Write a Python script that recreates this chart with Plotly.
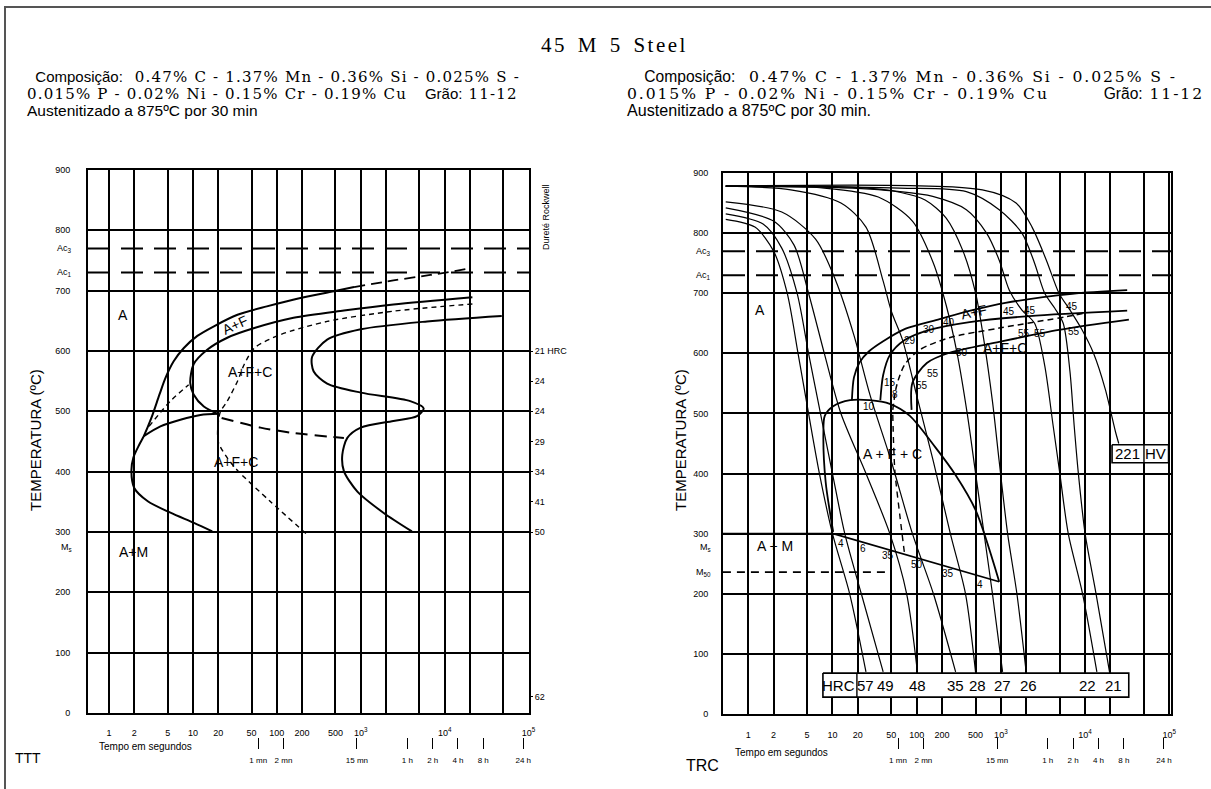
import math
import plotly.graph_objects as go

W, H = 1211, 789

# ---------------- axes ----------------
sec_ticks = [1, 2, 5, 10, 20, 50, 100, 200, 500, 1000, 2000, 5000, 1e4, 2e4, 5e4, 1e5]
sec_text = ["1", "2", "5", "10", "20", "50", "100", "200", "500", "10<sup>3</sup>", "", "",
            "10<sup>4</sup>", "", "", "10<sup>5</sup>"]
clock_ticks = [60, 120, 900, 3600, 7200, 14400, 28800, 86400]
clock_text = ["1 mn", "2 mn", "15 mn", "1 h", "2 h", "4 h", "8 h", "24 h"]
temp_ticks = list(range(0, 901, 100))

# critical temperatures (°C)
ac3 = 770
ac1 = 730
m50_T = 236

# Rockwell hardness after isothermal holding (TTT)
hrc_T = [600, 550, 500, 450, 400, 350, 300, 27]
hrc_text = ["21 HRC", "24", "24", "29", "34", "41", "50", "62"]

# ---------------- TTT curves (time s, temperature °C) ----------------
ttt_start_t = [17, 10.3, 5.4, 2.9, 2.0, 1.85, 1.95, 2.3, 2.6, 3.2, 4.0, 4.7, 5.9, 7.8, 11.3, 17.8, 34, 76, 191, 479, 832]
ttt_start_T = [301, 315, 332, 351, 373, 401, 423, 445, 459, 489, 528, 555, 583, 605, 625, 641, 660, 674, 688, 699, 706]
ttt_start_ext_t = [832, 2450, 6760, 20400]
ttt_start_ext_T = [706, 717, 726, 737]
ttt_pearl_t = [21400, 2450, 630, 158, 54, 25.7, 14.8, 10.2, 9.3, 10.2, 13.5, 20.4]
ttt_pearl_T = [689, 677, 667, 655, 638, 622, 602, 578, 547, 528, 508, 495]
ttt_bain_t = [2.6, 4.1, 7.1, 12.3, 20.4]
ttt_bain_T = [459, 475, 486, 494, 496]
ttt_link_t = [3.0, 5.4, 8.9]
ttt_link_T = [475, 517, 544]
ttt_half_t = [22, 64, 159, 630]
ttt_half_T = [489, 473, 464, 456]
ttt_end_t = [47900, 6170, 1000, 398, 263, 275, 398, 1000, 3890, 5620, 4680, 2450, 1000, 692, 603, 630, 912, 1860, 4070]
ttt_end_T = [658, 649, 636, 619, 590, 566, 546, 531, 517, 505, 492, 484, 473, 456, 428, 401, 367, 332, 301]
ttt_carb_t = [21400, 2450, 398, 110, 54, 41, 34, 25.7, 21, 20, 25.7, 34, 83, 229]
ttt_carb_T = [678, 666, 649, 627, 605, 578, 550, 517, 497, 450, 423, 402, 351, 296]

# ---------------- TRC cooling curves (time s, temperature °C) ----------------
cool_57_t = [0.54, 1.2, 2.0, 2.9, 3.9, 5.2, 7.0, 10, 16, 25]
cool_57_T = [823, 810, 770, 700, 600, 500, 400, 300, 200, 70]
cool_49_t = [0.54, 1.5, 2.5, 3.8, 5.2, 7.2, 10, 14, 22, 40]
cool_49_T = [832, 815, 775, 700, 600, 500, 400, 300, 200, 70]
cool_48_t = [0.54, 2.0, 3.5, 5.2, 8, 12.6, 25, 48, 76, 102]
cool_48_T = [842, 820, 780, 700, 600, 500, 400, 300, 200, 70]
cool_35_t = [0.54, 2.5, 6.3, 11, 18, 28, 50, 89, 158, 290]
cool_35_T = [852, 835, 790, 720, 630, 530, 420, 300, 200, 70]
cool_28_t = [0.54, 3.2, 12.6, 25, 40, 50, 68, 100, 158, 251, 380, 500]
cool_28_T = [878, 872, 850, 810, 720, 670, 622, 530, 420, 300, 200, 70]
cool_27_t = [0.54, 8, 35, 89, 158, 224, 302, 398, 501, 631, 794, 1047]
cool_27_T = [878, 875, 860, 820, 750, 680, 600, 500, 400, 300, 200, 70]
cool_26_t = [0.54, 20, 63, 126, 224, 355, 501, 631, 794, 955, 1202, 1549, 1995]
cool_26_T = [878, 876, 868, 855, 825, 770, 700, 620, 520, 420, 300, 200, 70]
cool_22_t = [0.54, 10, 63, 155, 389, 676, 955, 1259, 1778, 2512, 3311, 4169, 5012, 6310, 9333, 13800]
cool_22_T = [878, 876, 869, 861, 839, 800, 755, 705, 672, 650, 580, 480, 400, 300, 200, 70]
cool_21_t = [0.54, 63, 389, 955, 1778, 2512, 3311, 4365, 5495, 6607, 7413, 8318, 10000, 13490, 19500]
cool_21_T = [878, 875, 869, 839, 800, 750, 700, 675, 650, 570, 480, 400, 300, 200, 70]
cool_hv_t = [0.54, 603, 1514, 2344, 3467, 4898, 6607, 9120, 12590, 17380, 22900, 25100]
cool_hv_T = [878, 872, 850, 810, 755, 700, 672, 640, 600, 540, 470, 450]

cooling = [("57", cool_57_t, cool_57_T, 0), ("49", cool_49_t, cool_49_T, 2), ("48", cool_48_t, cool_48_T, 0),
           ("35", cool_35_t, cool_35_T, 0), ("28", cool_28_t, cool_28_T, 2), ("27", cool_27_t, cool_27_T, 0),
           ("26", cool_26_t, cool_26_T, 2), ("22", cool_22_t, cool_22_T, -9), ("21", cool_21_t, cool_21_T, 4)]

# TRC transformation lines
trc_ferr_t = [17, 18, 21, 27, 40, 74, 187, 460, 1130, 7030, 31600]
trc_ferr_T = [522, 560, 585, 603, 620, 641, 657, 672, 684, 699, 705]
trc_pearl_t = [37, 40, 48, 72, 142, 425, 2180, 31600]
trc_pearl_T = [522, 564, 597, 622, 639, 652, 662, 671]
trc_half_t = [52, 58, 72, 109, 245, 955, 6000, 9800]
trc_half_T = [506, 547, 581, 606, 626, 642, 661, 667]
trc_end_t = [87, 89, 132, 245, 955, 4900, 33100]
trc_end_T = [506, 551, 584, 601, 619, 639, 656]
trc_bain_t = [10.2, 8.3, 7.8, 8.1, 10.2, 16.2, 27.5, 48, 83, 166, 288, 501, 955]
trc_bain_T = [303, 386, 468, 496, 512, 522, 522, 516, 496, 444, 398, 339, 220]
trc_ms_t = [0.5, 10.2, 955]
trc_ms_T = [300, 300, 220]
trc_m50_t = [0.5, 48]
trc_bhalf_t = [52, 55, 63, 72]
trc_bhalf_T = [498, 406, 331, 265]

HV_VALUE = "221"

# ---------------- figure ----------------
fig = go.Figure()
LEFT_RANGE = [-0.25, 5.005]
RIGHT_RANGE = [-0.30, 5.02]


def px(x):
    return x / W


def py(y):
    return 1 - y / H


def line(t, T, xa, ya, width=2.0, dash="solid", shape="spline", fill=None):
    fig.add_trace(go.Scatter(
        x=t, y=T, xaxis=xa, yaxis=ya, mode="lines",
        line=dict(color="black", width=width, dash=dash, shape=shape, smoothing=0.8),
        fill=fill, fillcolor="white" if fill else None,
        hoverinfo="skip", showlegend=False))


# left (TTT)
for T in (ac3, ac1):
    line([10 ** LEFT_RANGE[0], 10 ** LEFT_RANGE[1]], [T, T], "x", "y", 2.0, "22px,11px", "linear")
line(ttt_start_t, ttt_start_T, "x", "y", 2.0)
line(ttt_start_ext_t, ttt_start_ext_T, "x", "y", 1.8, "11px,6px")
line(ttt_pearl_t, ttt_pearl_T, "x", "y", 2.0)
line(ttt_bain_t, ttt_bain_T, "x", "y", 2.0)
line(ttt_link_t, ttt_link_T, "x", "y", 1.4, "5px,4px")
line(ttt_half_t, ttt_half_T, "x", "y", 2.0, "12px,7px")
line(ttt_end_t, ttt_end_T, "x", "y", 2.0)
line(ttt_carb_t, ttt_carb_T, "x", "y", 1.4, "5px,4px")

# right (TRC)
for T in (ac3, ac1):
    line([10 ** RIGHT_RANGE[0], 10 ** RIGHT_RANGE[1]], [T, T], "x2", "y2", 2.0, "22px,11px", "linear")
for _, t, T, _s in cooling:
    line(t, T, "x2", "y2", 1.2)
line(cool_hv_t, cool_hv_T, "x2", "y2", 1.2)
line(trc_ferr_t, trc_ferr_T, "x2", "y2", 1.8)
line(trc_pearl_t, trc_pearl_T, "x2", "y2", 1.8)
line(trc_half_t, trc_half_T, "x2", "y2", 1.5, "6px,4px")
line(trc_end_t, trc_end_T, "x2", "y2", 1.8)
line(trc_bain_t, trc_bain_T, "x2", "y2", 1.8)
line(trc_ms_t, trc_ms_T, "x2", "y2", 1.8, shape="linear")
line(trc_m50_t, [m50_T, m50_T], "x2", "y2", 1.6, "8px,6px", "linear")
line(trc_bhalf_t, trc_bhalf_T, "x2", "y2", 1.4, "6px,5px")

# hardness boxes
box_x0, box_x1, box_y0, box_y1 = 7.7, 33000, 28, 68
line([box_x0, box_x1, box_x1, box_x0, box_x0], [box_y1, box_y1, box_y0, box_y0, box_y1],
     "x2", "y2", 1.6, shape="linear", fill="toself")
line([19.5, 19.5], [box_y0, box_y1], "x2", "y2", 1.4, shape="linear")
hv_x0, hv_x1, hv_y0, hv_y1 = 20900, 98000, 418, 448
line([hv_x0, hv_x1, hv_x1, hv_x0, hv_x0], [hv_y1, hv_y1, hv_y0, hv_y0, hv_y1],
     "x2", "y2", 1.6, shape="linear", fill="toself")
line([50000, 50000], [hv_y0, hv_y1], "x2", "y2", 1.4, shape="linear")

# invisible carriers for the auxiliary axes
for xa, ya in (("x3", "y"), ("x4", "y2"), ("x", "y3")):
    fig.add_trace(go.Scatter(x=[100], y=[-100], xaxis=xa, yaxis=ya, mode="markers",
                             marker=dict(opacity=0), hoverinfo="skip", showlegend=False))

SANS = "Liberation Sans"
SERIF = "Liberation Serif"
WIDE_SERIF = "DejaVu Serif"

tick_font = dict(family=SANS, size=9, color="black")
frame = dict(showgrid=True, gridcolor="black", gridwidth=1.6, showline=True, linecolor="black",
             linewidth=2, mirror=True, zeroline=False, ticks="", tickfont=tick_font, tickmode="array",
             automargin=False)
clock = dict(tickmode="array", tickvals=clock_ticks, ticktext=clock_text, ticks="outside", ticklen=11,
             tickwidth=1.2, tickcolor="black", showgrid=False, showline=False, zeroline=False,
             automargin=False, ticklabelstandoff=4, side="bottom", anchor="free", position=py(737),
             tickfont=dict(family=SANS, size=8, color="black"), type="log")

fig.update_layout(
    template="none",
    width=W, height=H, margin=dict(l=0, r=0, t=0, b=0, autoexpand=False),
    paper_bgcolor="white", plot_bgcolor="white", showlegend=False,
    xaxis=dict(frame, type="log", range=LEFT_RANGE, domain=[px(88), px(529)], anchor="y",
               tickvals=sec_ticks, ticktext=sec_text, ticklabelstandoff=10),
    yaxis=dict(frame, range=[0, 900], domain=[py(713), py(170)], anchor="x",
               tickvals=temp_ticks, ticklabelstandoff=14),
    xaxis2=dict(frame, type="log", range=RIGHT_RANGE, domain=[px(723), px(1171)], anchor="y2",
                tickvals=sec_ticks, ticktext=sec_text, ticklabelstandoff=11),
    yaxis2=dict(frame, range=[0, 900], domain=[py(714), py(173)], anchor="x2",
                tickvals=temp_ticks, ticklabelstandoff=11),
    xaxis3=dict(clock, range=LEFT_RANGE, overlaying="x"),
    xaxis4=dict(clock, range=RIGHT_RANGE, overlaying="x2"),
    yaxis3=dict(range=[0, 900], overlaying="y", side="right", anchor="x", tickmode="array",
                tickvals=hrc_T, ticktext=hrc_text, ticks="outside", ticklen=3, tickcolor="black",
                showgrid=False, showline=False, zeroline=False, tickfont=tick_font, automargin=False),
)


def note(text, x, y, xref="paper", yref="paper", size=13, family=SANS,
         xanchor="center", yanchor="middle", angle=0, xshift=0, align="center"):
    fig.add_annotation(text=text, x=x, y=y, xref=xref, yref=yref, showarrow=False,
                       font=dict(family=family, size=size, color="black"),
                       xanchor=xanchor, yanchor=yanchor, textangle=angle, xshift=xshift, align=align)


def span(s, family, size, extra=""):
    return f'<span style="font-family:{family};font-size:{size}px;{extra}">{s}</span>'


NB = "\u00a0"

# headings
note(span("45 M 5 Steel", SERIF, 21, "letter-spacing:2.5px;word-spacing:3px"), px(614), py(45), size=21)


def composition(x, y, scale, ls, indent, gap, tail):
    s_txt = 15 * scale
    spacing = f"letter-spacing:{ls:.2f}px"
    l1 = (span(NB * indent + "Composição:", SANS, s_txt)
          + span(NB * 2 + "0.47% C - 1.37% Mn - 0.36% Si - 0.025% S -", WIDE_SERIF, s_txt, spacing))
    l2 = (span("0.015% P - 0.02% Ni - 0.15% Cr - 0.19% Cu" + NB * gap, WIDE_SERIF, s_txt, spacing)
          + span("Grão:", SANS, s_txt) + span(" 11-12", WIDE_SERIF, s_txt, spacing))
    l3 = span("Austenitizado a 875ºC por 30 min" + tail, SANS, 15.5 * scale)
    note(l1 + "<br>" + l2 + "<br>" + l3, px(x), py(y), size=13.2, xanchor="left", align="left")


composition(25, 93.5, 1.0, 1.2, 2, 3, "")
composition(625, 93.5, 1.04, 1.9, 4, 8, ".")

# axis titles and side labels
note("TEMPERATURA (ºC)", px(36), py(440), size=15, angle=-90)
note("TEMPERATURA (ºC)", px(681), py(440), size=15, angle=-90)
note("Dureté Rockwell", px(546), py(217), size=9, angle=-90)
note("Tempo em segundos", px(145), py(746), size=10)
note("Tempo em segundos", px(781), py(752), size=10)
note("TTT", px(28), py(758), size=14)
note("TRC", px(702), py(765), size=16)

for yref, xr, labels in (("y", 74, (("Ac<sub>3</sub>", ac3), ("Ac<sub>1</sub>", ac1), ("M<sub>s</sub>", 274))),
                         ("y2", 713, (("Ac<sub>3</sub>", ac3), ("Ac<sub>1</sub>", ac1), ("M<sub>s</sub>", 277),
                                      ("M<sub>50</sub>", m50_T)))):
    for txt, T in labels:
        note(txt, px(xr), T, yref=yref, size=9, xanchor="right")

# TTT region labels
for txt, t, T, ang in (("A", 1.45, 660, 0), ("A+F", 31.6, 643, -25), ("A+F+C", 48, 565, 0),
                       ("A+F+C", 33, 416, 0), ("A+M", 1.95, 267, 0)):
    note(txt, math.log10(t), T, xref="x", yref="y", size=14, angle=ang)

# TRC region labels
for txt, t, T, ang in (("A", 1.38, 672, 0), ("A+F", 479, 668, -12), ("A+F+C", 1120, 609, 0),
                       ("A + F + C", 52, 432, 0), ("A + M", 2.1, 279, 0)):
    note(txt, math.log10(t), T, xref="x2", yref="y2", size=14, angle=ang)

for txt, t, T in (("29", 83, 622), ("30", 141, 640), ("40", 245, 652), ("45", 1260, 669), ("45", 2190, 672),
                  ("45", 7080, 678), ("55", 1905, 633), ("55", 2880, 633), ("55", 7410, 636), ("50", 347, 602),
                  ("15", 48, 551), ("8", 55, 531), ("55", 117, 547), ("55", 155, 567), ("10", 27.5, 511),
                  ("4", 12.6, 283), ("6", 23, 275), ("35", 46, 263), ("50", 102, 248), ("35", 234, 233),
                  ("4", 562, 216)):
    note(txt, math.log10(t), T, xref="x2", yref="y2", size=10)

# hardness values at the end of each cooling curve
note("HRC", math.log10(11.8), 48, xref="x2", yref="y2", size=15)
for txt, t, T, shift in cooling:
    note(txt, math.log10(t[-1]), 48, xref="x2", yref="y2", size=15, xshift=shift)
note(HV_VALUE, math.log10(32000), 433, xref="x2", yref="y2", size=15)
note("HV", math.log10(69000), 433, xref="x2", yref="y2", size=15)

# page frame
fig.add_shape(type="line", xref="paper", yref="paper", x0=px(4), x1=1, y0=py(7), y1=py(7),
              line=dict(color="#555", width=2))
fig.add_shape(type="line", xref="paper", yref="paper", x0=px(5), x1=px(5), y0=0, y1=py(7),
              line=dict(color="#555", width=2))

fig.write_html("out.html")
